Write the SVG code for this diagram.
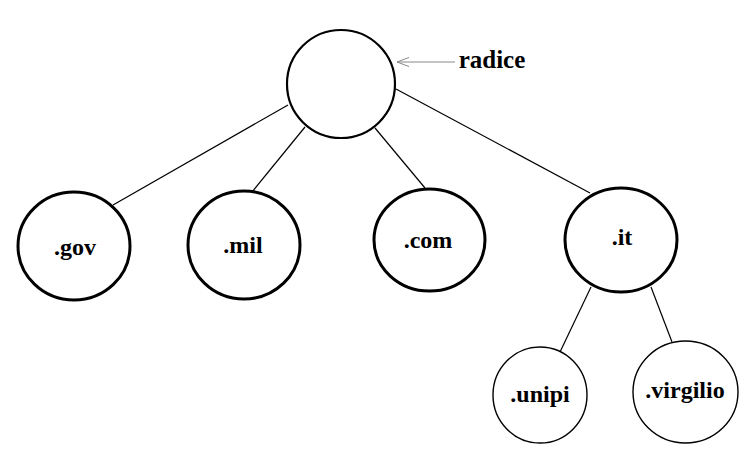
<svg xmlns="http://www.w3.org/2000/svg" width="754" height="461" viewBox="0 0 754 461">
<defs>
<style>
.n{fill:#fff;stroke:#000}
.thick{stroke-width:3}
.thin{stroke-width:1.4}
.root{stroke-width:2.2}
.lbl{font-family:'Liberation Serif','Times New Roman',serif;font-weight:bold;font-size:24px;text-anchor:middle;fill:#000}
.e{stroke:#000;stroke-width:1.2;fill:none}
</style>
<marker id="open" markerWidth="14" markerHeight="10" refX="13" refY="5" orient="auto" markerUnits="userSpaceOnUse">
<path d="M1,0.5 L13,5 L1,9.5" fill="none" stroke="#888" stroke-width="1"/>
</marker>
</defs>
<rect width="754" height="461" fill="#fff"/>
<g id="connectors">
<line class="e" x1="288" y1="105" x2="113" y2="205"/>
<line class="e" x1="305" y1="127" x2="252" y2="192"/>
<line class="e" x1="375" y1="128" x2="425" y2="188"/>
<line class="e" x1="396" y1="89" x2="590" y2="193"/>
<line class="e" x1="591" y1="287" x2="560" y2="352"/>
<line class="e" x1="651" y1="287" x2="672" y2="342"/>
<line x1="455" y1="62" x2="397" y2="62" stroke="#888" stroke-width="1" marker-end="url(#open)"/>
</g>
<g id="root"><ellipse class="n root" cx="341" cy="84" rx="54" ry="54"/></g>
<g id="radice-label"><text class="lbl" x="492" y="68" style="font-size:25px">radice</text></g>
<g id="gov"><ellipse class="n thick" cx="74" cy="246" rx="56" ry="54"/><text class="lbl" x="75" y="255">.gov</text></g>
<g id="mil"><ellipse class="n thick" cx="244" cy="245" rx="56" ry="54"/><text class="lbl" x="243" y="253">.mil</text></g>
<g id="com"><ellipse class="n thick" cx="429.5" cy="240" rx="55.5" ry="51"/><text class="lbl" x="428" y="248">.com</text></g>
<g id="it"><ellipse class="n thick" cx="621" cy="240" rx="56" ry="52"/><text class="lbl" x="622" y="245">.it</text></g>
<g id="unipi"><ellipse class="n thin" cx="540" cy="395" rx="47" ry="48"/><text class="lbl" x="540" y="402">.unipi</text></g>
<g id="virgilio"><ellipse class="n thin" cx="685.5" cy="392" rx="52.5" ry="51"/><text class="lbl" x="685" y="398">.virgilio</text></g>
</svg>
